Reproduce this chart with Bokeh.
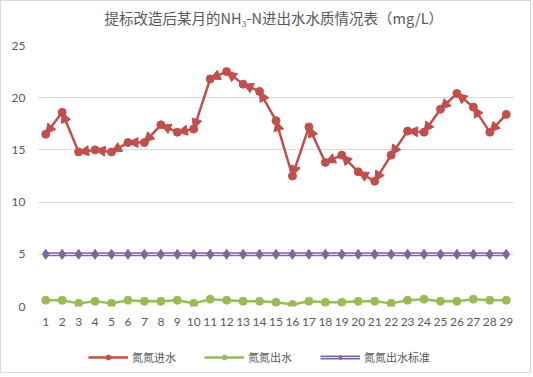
from bokeh.plotting import figure
from bokeh.layouts import column
from bokeh.models import (ColumnDataSource, Arrow, NormalHead, FixedTicker, Range1d,
                          Legend, LegendItem, Label)
from bokeh.embed import file_html
from bokeh.resources import INLINE

days = list(range(1, 30))
inflow = [16.5, 18.6, 14.8, 15.0, 14.8, 15.7, 15.7, 17.4, 16.7, 17.0,
          21.8, 22.5, 21.3, 20.6, 17.8, 12.5, 17.2, 13.8, 14.5, 12.9,
          12.0, 14.5, 16.8, 16.7, 18.9, 20.4, 19.1, 16.7, 18.4]
outflow = [0.6, 0.6, 0.3, 0.5, 0.3, 0.6, 0.5, 0.5, 0.6, 0.3,
           0.7, 0.6, 0.5, 0.5, 0.4, 0.2, 0.5, 0.4, 0.4, 0.5,
           0.5, 0.3, 0.6, 0.7, 0.5, 0.5, 0.7, 0.6, 0.6]
standard = [5] * 29
names = ["氮氮进水", "氮氮出水", "氮氮出水标准"]
title_text = "提标改造后某月的NH₃-N进出水水质情况表（mg/L）"
y_ticks = [0, 5, 10, 15, 20, 25]

RED = "#C0504D"
GREEN = "#9BBB59"
PURPLE = "#8064A2"
GRID = "#D9D9D9"
TXT = "#595959"
CJK = "Noto Sans CJK SC"
W = 529


def strip(height):
    f = figure(width=W, height=height, output_backend="svg", toolbar_location=None,
               x_range=Range1d(0, W), y_range=Range1d(0, height),
               x_axis_location=None, y_axis_location=None, min_border=0)
    f.grid.visible = False
    f.outline_line_color = None
    f.background_fill_color = "white"
    f.border_fill_color = "white"
    return f


src = ColumnDataSource(dict(x=days, inflow=inflow, outflow=outflow, std=standard))
seg = ColumnDataSource(dict(x0=days[1:], y0=inflow[1:], x1=days[:-1], y1=inflow[:-1]))

# title strip
tf = strip(33)
tf.add_layout(Label(x=262, y=17, text=title_text, text_align="center",
                    text_baseline="middle", text_font=CJK, text_font_size="14.5px",
                    text_color=TXT))

# main chart
p = figure(width=W, height=302, output_backend="svg", toolbar_location=None,
           x_range=Range1d(0.5, 29.5), y_range=Range1d(0, 25),
           min_border_left=36, min_border_right=16, min_border_top=11, min_border_bottom=30)
p.outline_line_color = None
p.background_fill_color = "white"
p.border_fill_color = "white"

p.xgrid.grid_line_color = None
p.ygrid.grid_line_color = GRID
p.ygrid.grid_line_width = 1
p.yaxis.ticker = FixedTicker(ticks=y_ticks)
p.xaxis.ticker = FixedTicker(ticks=days)
for ax in (p.xaxis, p.yaxis):
    ax.axis_line_color = None
    ax.major_tick_line_color = None
    ax.minor_tick_line_color = None
    ax.major_label_text_color = TXT
    ax.major_label_text_font = "Lato"
    ax.major_label_text_font_size = "12px"
p.xaxis.major_label_standoff = 5
p.yaxis.major_label_standoff = 6

# inflow (red) with begin arrows on each segment
p.line("x", "inflow", source=src, line_color=RED, line_width=2.5)
arr = Arrow(source=seg, x_start="x0", y_start="y0", x_end="x1", y_end="y1",
            line_color=RED, line_width=1,
            end=NormalHead(size=10, fill_color=RED, line_color=RED, line_width=1))
p.add_layout(arr)
p.scatter("x", "inflow", source=src, size=8, marker="circle", fill_color=RED, line_color=RED)

# outflow (green)
p.line("x", "outflow", source=src, line_color=GREEN, line_width=2.5)
p.scatter("x", "outflow", source=src, size=8, marker="circle", fill_color=GREEN, line_color=GREEN)

# standard (purple, double line)
p.line("x", "std", source=src, line_color=PURPLE, line_width=4)
p.line("x", "std", source=src, line_color="white", line_width=1.2, line_alpha=0.8)
p.scatter("x", "std", source=src, size=10, marker="diamond", fill_color=PURPLE, line_color=PURPLE)

# legend strip (glyphs kept out of its view)
lg = strip(36)
lg.x_range = Range1d(1000, 1001)
lg.y_range = Range1d(1000, 1001)
l1 = lg.line("x", "inflow", source=src, line_color=RED, line_width=2.5)
l1p = lg.scatter("x", "inflow", source=src, size=8, marker="circle", fill_color=RED, line_color=RED)
l2 = lg.line("x", "outflow", source=src, line_color=GREEN, line_width=2.5)
l2p = lg.scatter("x", "outflow", source=src, size=8, marker="circle", fill_color=GREEN, line_color=GREEN)
l3 = lg.line("x", "std", source=src, line_color=PURPLE, line_width=4)
l3i = lg.line("x", "std", source=src, line_color="white", line_width=1.2, line_alpha=0.8)
l3p = lg.scatter("x", "std", source=src, size=10, marker="diamond", fill_color=PURPLE, line_color=PURPLE)

legend = Legend(items=[
    LegendItem(label=names[0], renderers=[l1, l1p]),
    LegendItem(label=names[1], renderers=[l2, l2p]),
    LegendItem(label=names[2], renderers=[l3, l3i, l3p]),
], orientation="horizontal", location=(51, 7), glyph_width=40, glyph_height=12,
   label_text_font=CJK, label_text_font_size="11px", label_text_color=TXT,
   border_line_color=None, background_fill_alpha=0, spacing=28, padding=4,
   margin=0, label_standoff=4)
lg.add_layout(legend)

layout = column(tf, p, lg, spacing=0)
layout.styles = {"border": "1px solid #D9D9D9"}
open("out.html", "w").write(file_html(layout, INLINE))
